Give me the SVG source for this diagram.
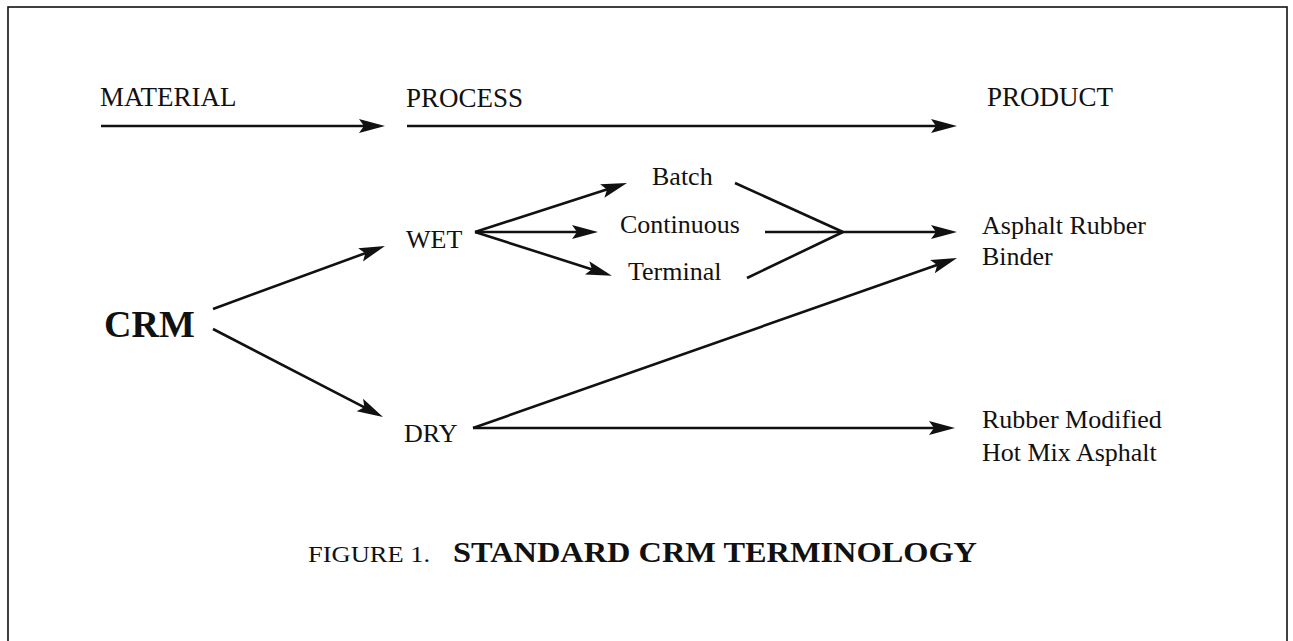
<svg xmlns="http://www.w3.org/2000/svg" width="1293" height="641" viewBox="0 0 1293 641">
  <style>
    text { font-family: "Liberation Serif", "Times New Roman", serif; fill: #111; }
    .hdr { font-size: 27px; }
    .lbl { font-size: 26px; }
    .big { font-size: 38px; font-weight: bold; }
    .cap { font-size: 24px; }
    .capb { font-size: 30px; font-weight: bold; }
    .edge { stroke: #111; stroke-width: 2.6; fill: none; }
    .arrow { marker-end: url(#head); }
  </style>
  <defs>
    <marker id="head" markerUnits="userSpaceOnUse" markerWidth="28" markerHeight="16"
            refX="16" refY="7" orient="auto" overflow="visible">
      <path d="M0,0 L26,7 L0,14 L5,7 z" fill="#111"/>
    </marker>
  </defs>

  <rect width="1293" height="641" fill="#fff"/>
  <!-- frame (open at the bottom edge of the page) -->
  <rect x="8" y="7" width="1279" height="700" fill="none" stroke="#111" stroke-width="1.6"/>

  <!-- column headings -->
  <g id="heading-material"><text class="hdr" x="100" y="106">MATERIAL</text></g>
  <g id="heading-process"><text class="hdr" x="406" y="107">PROCESS</text></g>
  <g id="heading-product"><text class="hdr" x="987" y="106">PRODUCT</text></g>

  <!-- nodes -->
  <g id="crm"><text class="big" x="104" y="337">CRM</text></g>
  <g id="wet"><text class="lbl" x="406" y="248">WET</text></g>
  <g id="dry"><text class="lbl" x="404" y="442">DRY</text></g>
  <g id="batch"><text class="lbl" x="652" y="185">Batch</text></g>
  <g id="continuous"><text class="lbl" x="620" y="233">Continuous</text></g>
  <g id="terminal"><text class="lbl" x="628" y="280">Terminal</text></g>
  <g id="asphalt-rubber-binder">
    <text class="lbl" x="982" y="234">Asphalt Rubber</text>
    <text class="lbl" x="982" y="265">Binder</text>
  </g>
  <g id="rubber-modified-hma">
    <text class="lbl" x="982" y="428">Rubber Modified</text>
    <text class="lbl" x="982" y="461">Hot Mix Asphalt</text>
  </g>

  <!-- connectors -->
  <g id="connectors">
    <line class="edge arrow" x1="101" y1="126" x2="375" y2="126"/>
    <line class="edge arrow" x1="407" y1="126" x2="947" y2="126"/>

    <line class="edge arrow" x1="213" y1="309" x2="375.6" y2="249.4"/>
    <line class="edge arrow" x1="213" y1="329" x2="374.1" y2="412.4"/>

    <line class="edge arrow" x1="475" y1="232" x2="617.5" y2="186.1"/>
    <line class="edge arrow" x1="475" y1="232" x2="588" y2="232"/>
    <line class="edge arrow" x1="475" y1="232" x2="602.4" y2="272.7"/>

    <line class="edge" x1="735" y1="183" x2="843" y2="232"/>
    <line class="edge" x1="765" y1="232" x2="843" y2="232"/>
    <line class="edge" x1="747" y1="278" x2="843" y2="232"/>
    <line class="edge arrow" x1="843" y1="232" x2="947" y2="232"/>

    <line class="edge arrow" x1="473" y1="428" x2="947.6" y2="261.3"/>
    <line class="edge arrow" x1="473" y1="428" x2="945" y2="428"/>
  </g>

  <!-- caption -->
  <g id="caption">
    <text class="cap" x="308" y="562" textLength="122" lengthAdjust="spacingAndGlyphs">FIGURE 1.</text>
    <text class="capb" x="453" y="562" textLength="524" lengthAdjust="spacingAndGlyphs">STANDARD CRM TERMINOLOGY</text>
  </g>
</svg>
